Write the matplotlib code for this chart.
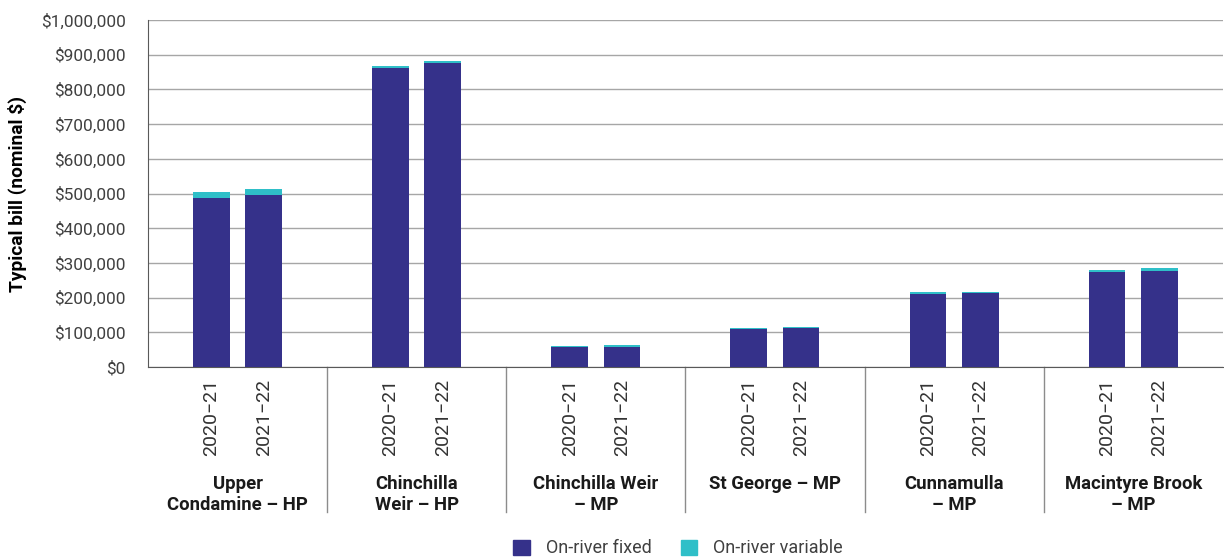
import numpy as np
import matplotlib
matplotlib.use('Agg')
from matplotlib import pyplot as plt
from matplotlib.patches import Patch
from matplotlib.ticker import FuncFormatter
import matplotlib.transforms as mtransforms

plt.rcParams['font.family'] = ['Roboto', 'DejaVu Sans']

# schemes and years
schemes = ['Upper\nCondamine – HP', 'Chinchilla\nWeir – HP', 'Chinchilla Weir\n– MP',
           'St George – MP', 'Cunnamulla\n– MP', 'Macintyre Brook\n– MP']
years = ['2020−21', '2021−22']

# typical bill components ($), one pair per scheme (2020-21, 2021-22)
fixed = [[487000, 496000], [862000, 876000], [58000, 59000],
         [109000, 113000], [210000, 213000], [274000, 277000]]
variable = [[17000, 17000], [5000, 6000], [3000, 4000],
            [3000, 2000], [6000, 3000], [6000, 8000]]

FIXED_COL = '#35318a'
VAR_COL = '#2fbfc8'

fig = plt.figure(figsize=(12.24, 5.58), dpi=100)
ax = fig.add_axes([148 / 1224, 1 - 367 / 558, 1 - 148 / 1224 - 0.001, 347 / 558])

offset = 0.146
width = 0.205
for i in range(len(schemes)):
    for j, dx in enumerate((-offset, offset)):
        x = i + dx
        ax.bar(x, fixed[i][j], width=width, color=FIXED_COL, zorder=3)
        ax.bar(x, variable[i][j], width=width, bottom=fixed[i][j], color=VAR_COL, zorder=3)

ax.set_xlim(-0.5, len(schemes) - 0.5)
ax.set_ylim(0, 1000000)
ax.set_yticks(np.arange(0, 1000001, 100000))
ax.yaxis.set_major_formatter(FuncFormatter(lambda v, p: '${:,.0f}'.format(v)))
ax.tick_params(axis='y', length=0, labelsize=12.4, labelcolor='#404040', pad=16)
ax.set_xticks([])
ax.grid(axis='y', color='#a6a6a6', linewidth=1, zorder=0)
for s in ('top', 'right'):
    ax.spines[s].set_visible(False)
ax.spines['left'].set_color('#595959')
ax.spines['bottom'].set_color('#595959')
ax.set_ylabel('Typical bill (nominal $)', fontsize=13.8, fontweight='bold', labelpad=10)

# category labels under the axis
trans = mtransforms.blended_transform_factory(ax.transData, ax.transAxes)
for i, name in enumerate(schemes):
    for j, dx in enumerate((-offset, offset)):
        ax.text(i + dx, -0.035, years[j], rotation=90, ha='center', va='top',
                fontsize=14, color='#333333', transform=trans)
    ax.text(i, -0.31, name, ha='center', va='top', fontsize=13.3,
            fontweight='bold', color='#1a1a1a', linespacing=1.25, transform=trans)
    if i > 0:
        ax.plot([i - 0.5, i - 0.5], [0, -0.418], color='#8c8c8c', linewidth=1,
                transform=trans, clip_on=False)

handles = [Patch(color=FIXED_COL, label='On-river fixed'),
           Patch(color=VAR_COL, label='On-river variable')]
fig.legend(handles=handles, loc='lower center', bbox_to_anchor=(0.554, -0.028), ncol=2,
           frameon=False, fontsize=13, handlelength=0.9, handleheight=0.9,
           columnspacing=1.6, handletextpad=0.9, labelcolor='#404040')

fig.savefig('out.png', dpi=100)
